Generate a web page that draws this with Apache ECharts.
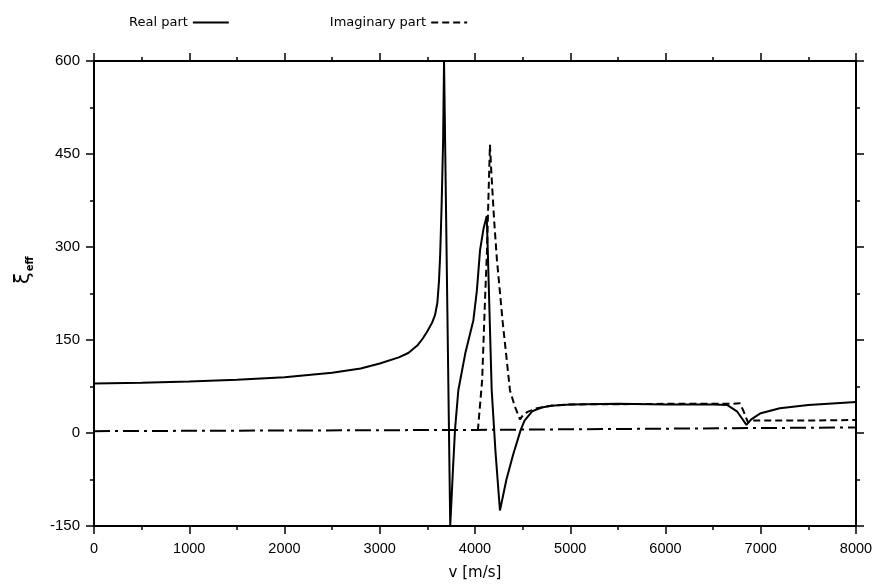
<!DOCTYPE html>
<html>
<head>
<meta charset="utf-8">
<script src="https://cdn.jsdelivr.net/npm/echarts@6/dist/echarts.min.js"></script>
<style>
html,body{margin:0;padding:0;background:#fff;}
#c{width:873px;height:584px;}
</style>
</head>
<body>
<div id="c"></div>
<script>
// Real part: [v, value]
var realPart = [
  [0, 80], [500, 81], [1000, 83], [1500, 86], [2000, 90], [2500, 97], [2800, 104],
  [3000, 112], [3200, 122], [3300, 129], [3400, 142], [3450, 152], [3500, 164], [3550, 178],
  [3580, 190], [3605, 210], [3622, 245], [3635, 290], [3650, 370], [3665, 470], [3675, 600],
  [3740, -150], [3765, -70], [3790, 5], [3825, 69], [3900, 130], [3983, 182],
  [4020, 230], [4053, 295], [4090, 330], [4123, 350], [4135, 290], [4175, 70],
  [4215, -30], [4262, -125], [4330, -75], [4400, -35], [4480, 5], [4520, 20],
  [4600, 35], [4700, 41], [4800, 44], [5000, 46], [5500, 47], [6000, 46],
  [6500, 46], [6650, 45], [6750, 35], [6850, 13], [6900, 22], [7000, 32],
  [7200, 40], [7500, 45], [8000, 50]
];
// Imaginary part: [v, value]
var imagPart = [
  [4030, 4], [4075, 85], [4105, 214], [4126, 295], [4145, 400], [4157, 465],
  [4170, 425], [4200, 345], [4230, 280], [4290, 180], [4367, 69], [4420, 42],
  [4472, 22], [4500, 28], [4550, 34], [4650, 40], [4800, 44], [5000, 46],
  [6000, 47], [6700, 47], [6780, 48], [6820, 35], [6866, 17], [6900, 20],
  [7500, 20], [8000, 21]
];
// Dash-dot reference line
var baseLine = [[0, 3], [4000, 5], [8000, 9]];

var xTicks = {min: 0, max: 8000, interval: 1000};
var yTicks = {min: -150, max: 600, interval: 150};

var FONT = 'DejaVu Sans';
var LFONT = 'Liberation Sans';
var chart = echarts.init(document.getElementById('c'), null, {renderer: 'canvas'});

function plain(v) { return String(v); }

function axisCommon(showLabel, extra) {
  var o = {
    type: 'value',
    axisLine: {show: true, onZero: false, lineStyle: {color: '#000', width: 2}},
    axisTick: {show: true, inside: false, length: 8, lineStyle: {color: '#000', width: 1.5}},
    minorTick: {show: true, splitNumber: 2, length: 4, lineStyle: {color: '#000', width: 1.5}},
    splitLine: {show: false},
    minorSplitLine: {show: false},
    axisLabel: {show: showLabel, color: '#000', fontFamily: LFONT, fontSize: 15, formatter: plain}
  };
  for (var k in extra) o[k] = extra[k];
  return o;
}

var option = {
  backgroundColor: '#fff',
  animation: false,
  grid: {left: 94, right: 17, top: 61, bottom: 58, containLabel: false, outerBoundsMode: 'none'},
  legend: {
    data: ['Real part', 'Imaginary part'],
    left: 124, top: 11,
    align: 'right',
    itemWidth: 36, itemHeight: 10, itemGap: 100,
    itemStyle: {opacity: 0},
    textStyle: {color: '#000', fontFamily: FONT, fontSize: 13}
  },
  xAxis: [
    axisCommon(true, {position: 'bottom', min: xTicks.min, max: xTicks.max, interval: xTicks.interval,
      name: 'v [m/s]', nameLocation: 'middle', nameGap: 40,
      nameTextStyle: {color: '#000', fontFamily: FONT, fontSize: 15},
      axisLabel: {show: true, color: '#000', fontFamily: LFONT, fontSize: 14.5, margin: 15, formatter: plain}}),
    axisCommon(false, {position: 'top', min: xTicks.min, max: xTicks.max, interval: xTicks.interval})
  ],
  yAxis: [
    axisCommon(true, {position: 'left', min: yTicks.min, max: yTicks.max, interval: yTicks.interval,
      axisLabel: {show: true, color: '#000', fontFamily: LFONT, fontSize: 15, margin: 14, formatter: plain}}),
    axisCommon(false, {position: 'right', min: yTicks.min, max: yTicks.max, interval: yTicks.interval})
  ],
  graphic: [{
    type: 'text',
    x: 13, y: 284,
    rotation: Math.PI / 2,
    style: {
      text: '{a|ξ}{b|eff}',
      rich: {
        a: {fontFamily: FONT, fontSize: 21, fill: '#000'},
        b: {fontFamily: FONT, fontSize: 10, fill: '#000', fontWeight: 'bold', padding: [12, 0, 0, 1]}
      }
    }
  }],
  series: [
    {
      name: 'Real part', type: 'line', data: realPart, symbol: 'none', smooth: false,
      lineStyle: {color: '#000', width: 2, type: 'solid'}, itemStyle: {color: '#000'},
      clip: true, z: 3
    },
    {
      name: 'Imaginary part', type: 'line', data: imagPart, symbol: 'none',
      lineStyle: {color: '#000', width: 2, type: [7, 4]}, itemStyle: {color: '#000'},
      clip: true, z: 3
    },
    {
      name: 'base', type: 'line', data: baseLine, symbol: 'none',
      lineStyle: {color: '#000', width: 2, type: [16, 5, 3, 5]},
      clip: true, z: 2
    }
  ]
};
chart.setOption(option);
</script>
</body>
</html>
